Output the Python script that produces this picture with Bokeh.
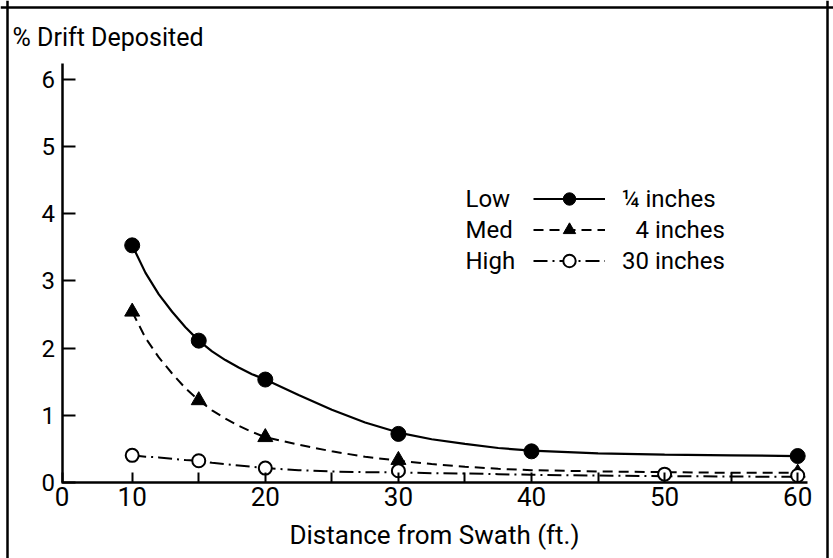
from bokeh.plotting import figure
from bokeh.models import (FixedTicker, Span, Label, Legend, LegendItem, Range1d, LinearAxis)
from bokeh.embed import file_html
from bokeh.resources import INLINE

# ---- data ----
x_tick_values = [10, 20, 30, 40, 50, 60]
x_minor_values = [15, 25, 35, 45, 55]
y_tick_values = [0, 1, 2, 3, 4, 5, 6]

series_names = ["Low", "Med", "High"]
series_labels = ["\u00bc inches", "\u20074 inches", "30 inches"]

low_x = [10, 15, 20, 30, 40, 60]
low_y = [3.53, 2.11, 1.53, 0.72, 0.46, 0.39]
med_x = [10, 15, 20, 30, 60]
med_y = [2.54, 1.22, 0.67, 0.33, 0.14]
high_x = [10, 15, 20, 30, 50, 60]
high_y = [0.40, 0.32, 0.21, 0.17, 0.12, 0.10]

# fitted curves
curve_x = [10, 11, 12, 13, 14, 15, 16, 17, 18, 19, 20, 22.5, 25, 27.5, 30,
           32.5, 35, 37.5, 40, 45, 50, 55, 60]
low_curve = [3.53, 3.12, 2.80, 2.54, 2.31, 2.11, 1.95, 1.82, 1.71, 1.61, 1.53,
             1.30, 1.08, 0.89, 0.74, 0.64, 0.57, 0.51, 0.47, 0.43, 0.41, 0.40, 0.39]
med_curve = [2.54, 2.15, 1.86, 1.62, 1.40, 1.22, 1.07, 0.95, 0.84, 0.75, 0.67,
             0.56, 0.46, 0.38, 0.32, 0.27, 0.23, 0.20, 0.18, 0.16, 0.15, 0.14, 0.14]
high_curve = [0.40, 0.38, 0.37, 0.35, 0.33, 0.32, 0.29, 0.27, 0.25, 0.23, 0.21,
              0.18, 0.16, 0.15, 0.145, 0.135, 0.13, 0.12, 0.11, 0.10, 0.09, 0.085, 0.08]

FONT = "Roboto"

p = figure(width=833, height=558, output_backend="svg", toolbar_location=None,
           x_range=Range1d(0.105, 62.69), y_range=Range1d(-1.137, 7.179),
           x_axis_type=None, y_axis_type=None,
           min_border=0, min_border_left=0, min_border_right=0,
           min_border_top=0, min_border_bottom=0)
p.outline_line_color = None
p.background_fill_color = "white"
p.border_fill_color = "white"

# axes placed inside the frame
xaxis = LinearAxis(fixed_location=0, bounds=(4.72, 60.74),
                   ticker=FixedTicker(ticks=[4.73] + x_tick_values, minor_ticks=x_minor_values),
                   major_label_overrides={4.73: "0"},
                   axis_label="Distance from Swath (ft.)")
yaxis = LinearAxis(fixed_location=4.73, bounds=(0, 6.24),
                   ticker=FixedTicker(ticks=y_tick_values))
for ax in (xaxis, yaxis):
    ax.axis_line_color = "black"
    ax.axis_line_width = 2.5
    ax.major_tick_line_color = "black"
    ax.major_tick_line_width = 2
    ax.minor_tick_line_color = "black"
    ax.minor_tick_line_width = 2
    ax.major_tick_out = 0
    ax.minor_tick_out = 0
    ax.major_label_text_font = FONT
    ax.major_label_text_color = "black"
xaxis.major_tick_in = 10
xaxis.minor_tick_in = 10
xaxis.major_label_text_font_size = "26px"
xaxis.major_label_standoff = 5
xaxis.axis_label_text_font = FONT
xaxis.axis_label_text_font_size = "26px"
xaxis.axis_label_text_font_style = "normal"
xaxis.axis_label_text_color = "black"
xaxis.axis_label_standoff = 10
yaxis.major_tick_in = 13
yaxis.major_label_text_font_size = "24px"
yaxis.major_label_standoff = 7
p.add_layout(xaxis, "below")
p.add_layout(yaxis, "left")

# outer frame (left, top, right)
for loc, dim in ((0.631, "height"), (62.24, "height"), (7.074, "width")):
    p.add_layout(Span(location=loc, dimension=dim, line_color="black", line_width=2.5))

# curves and points
l_low = p.line(curve_x, low_curve, line_color="black", line_width=2.2)
s_low = p.scatter(low_x, low_y, marker="circle", size=15, color="black")
l_med = p.line(curve_x, med_curve, line_color="black", line_width=2, line_dash="10 6")
s_med = p.scatter(med_x, med_y, marker="triangle", size=15, color="black")
l_high = p.line(curve_x, high_curve, line_color="black", line_width=2, line_dash="14 5 2 5")
s_high = p.scatter(high_x, high_y, marker="circle", size=13, fill_color="white",
                   line_color="black", line_width=2)

legend = Legend(items=[
    LegendItem(label=series_labels[0], renderers=[l_low, s_low]),
    LegendItem(label=series_labels[1], renderers=[l_med, s_med]),
    LegendItem(label=series_labels[2], renderers=[l_high, s_high]),
], location=(533, 282), glyph_width=72, glyph_height=31, label_height=31,
    spacing=0, label_standoff=17, padding=0, margin=0,
    border_line_color=None, background_fill_alpha=0,
    label_text_font=FONT, label_text_font_size="24px", label_text_color="black")
p.add_layout(legend, "center")

# left-hand legend words
for name, yv in zip(series_names, (4.228, 3.766, 3.304)):
    p.add_layout(Label(x=35.04, y=yv, text=name, text_align="left", text_baseline="middle",
                       text_font=FONT, text_font_size="24px", text_color="black"))

# y title
p.add_layout(Label(x=1.007, y=6.627, text="% Drift Deposited", text_align="left",
                   text_baseline="middle", text_font=FONT, text_font_size="25px",
                   text_color="black"))

open("out.html", "w").write(file_html(p, INLINE))
